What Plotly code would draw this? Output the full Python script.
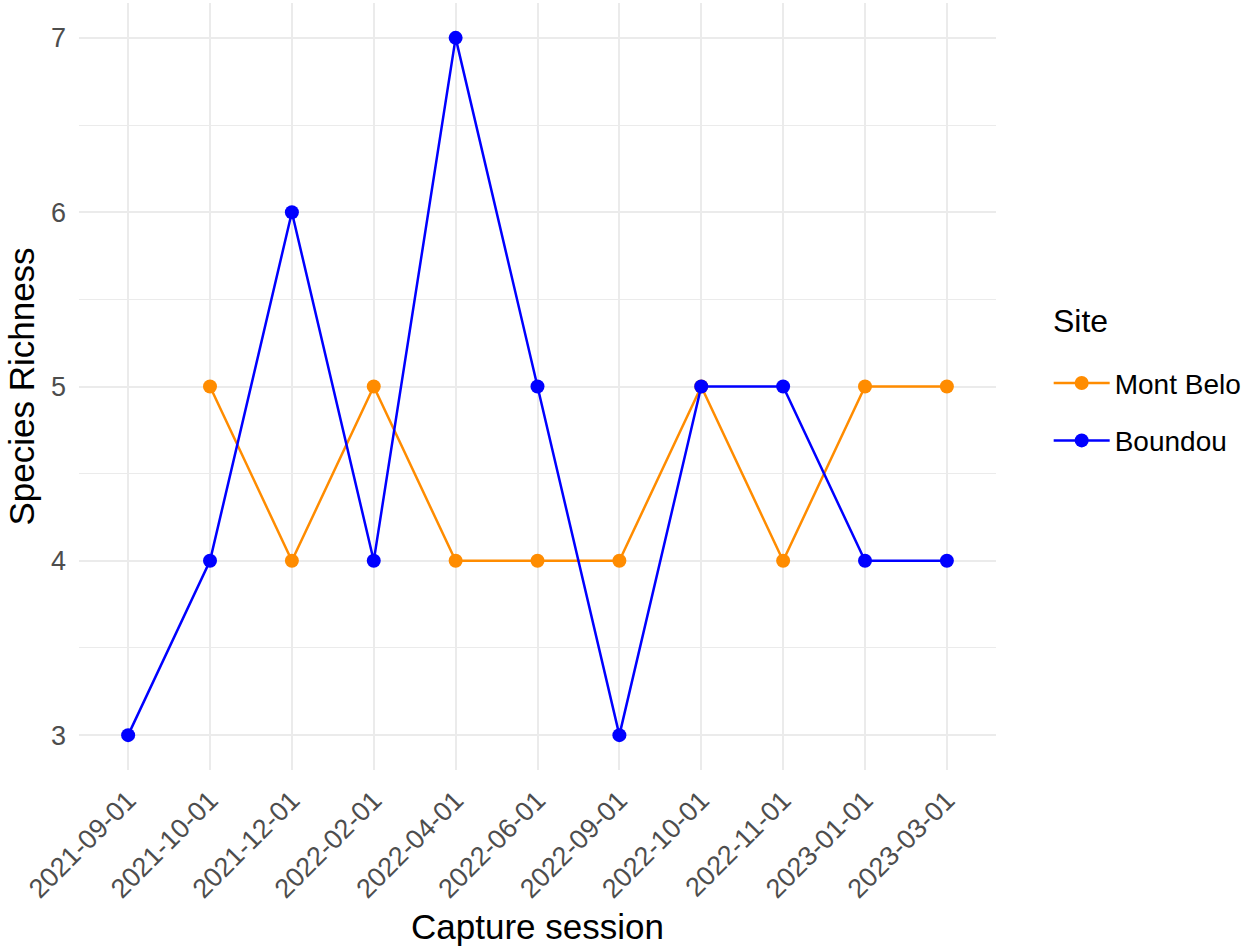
import plotly.graph_objects as go

sessions = ["2021-09-01", "2021-10-01", "2021-12-01", "2022-02-01", "2022-04-01",
            "2022-06-01", "2022-09-01", "2022-10-01", "2022-11-01", "2023-01-01", "2023-03-01"]
mont_belo_sessions = sessions[1:]
mont_belo = [5, 4, 5, 4, 4, 4, 5, 4, 5, 5]
boundou_sessions = sessions
boundou = [3, 4, 6, 4, 7, 5, 3, 5, 5, 4, 4]
legend_title = "Site"

FONT = "Liberation Sans, Arial, Helvetica, sans-serif"

fig = go.Figure()
fig.add_trace(go.Scatter(x=mont_belo_sessions, y=mont_belo, mode="lines+markers", name="Mont Belo",
                         legendgroup="a",
                         line=dict(color="#FF8C00", width=2.5), marker=dict(size=14, color="#FF8C00")))
fig.add_trace(go.Scatter(x=boundou_sessions, y=boundou, mode="lines+markers", name="Boundou",
                         legendgroup="b",
                         line=dict(color="#0000FF", width=2.5), marker=dict(size=14, color="#0000FF")))

fig.add_annotation(text=legend_title, xref="paper", yref="paper", x=1.0599, y=0.585,
                   xanchor="left", yanchor="middle", showarrow=False,
                   font=dict(size=32, color="black", family=FONT))

fig.update_layout(
    width=1249, height=950,
    paper_bgcolor="white", plot_bgcolor="white",
    margin=dict(l=79, r=252, t=3, b=180),
    font=dict(family=FONT, color="black"),
    legend=dict(font=dict(size=28, color="black"),
                x=1.0563, xanchor="left", y=0.467, yanchor="middle",
                itemwidth=56, tracegroupgap=18),
    xaxis=dict(type="category", categoryorder="array", categoryarray=sessions,
               range=[-0.6, 10.6], showgrid=True, gridcolor="#EBEBEB", gridwidth=2,
               zeroline=False, showline=False, ticks="", tickangle=-45,
               ticklabelstandoff=8,
               tickfont=dict(size=27, color="#4D4D4D"),
               title=dict(text="Capture session", font=dict(size=35, color="black"), standoff=11)),
    yaxis=dict(range=[2.8, 7.2], dtick=1, showgrid=True, gridcolor="#EBEBEB", gridwidth=2,
               minor=dict(dtick=0.5, showgrid=True, gridcolor="#EBEBEB", gridwidth=1),
               zeroline=False, showline=False, ticks="",
               ticklabelstandoff=12,
               tickfont=dict(size=27, color="#4D4D4D"),
               title=dict(text="Species Richness", font=dict(size=35, color="black"), standoff=5)),
)

fig.write_html("out.html", config={"displayModeBar": False},
               post_script="document.body.style.margin='0';")
